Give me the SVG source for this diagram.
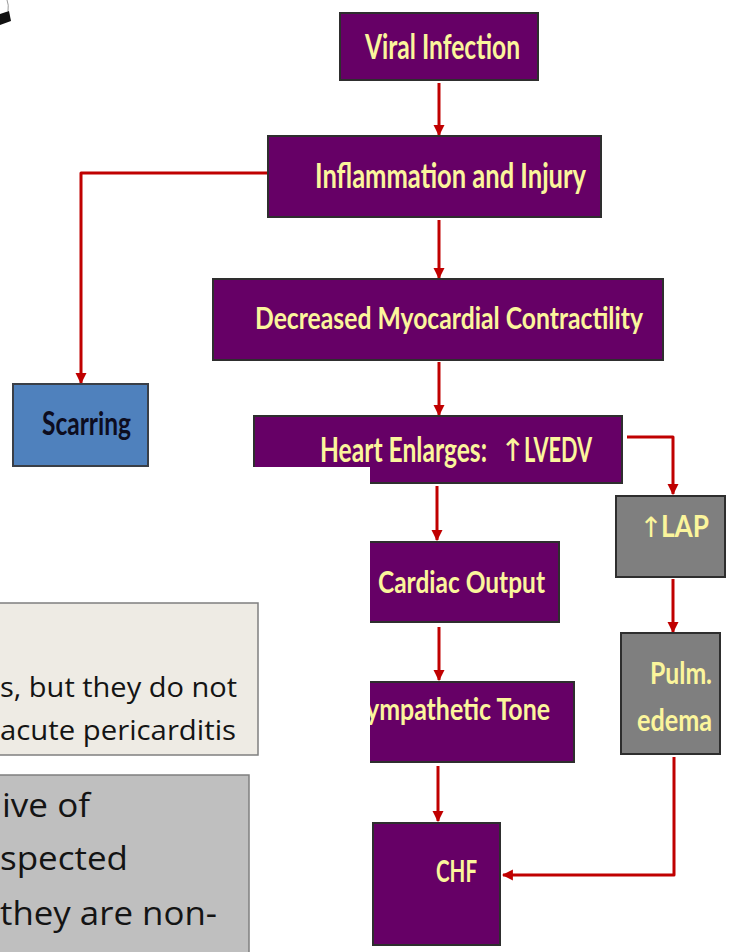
<svg xmlns="http://www.w3.org/2000/svg" width="730" height="952" viewBox="0 0 730 952">
  <defs>
    <marker id="arrow" viewBox="0 0 10 10" refX="9" refY="5" markerUnits="userSpaceOnUse" markerWidth="11" markerHeight="12" orient="auto">
      <path d="M0,0 L10,5 L0,10 z" fill="#c00000"/>
    </marker>
    <style>
      .box-purple { fill: #660066; stroke: #2e2e2e; stroke-width: 2; }
      .box-gray { fill: #7f7f7f; stroke: #2e2e2e; stroke-width: 2; }
      .box-blue { fill: #4f81bd; stroke: #3a3f47; stroke-width: 2; }
      .lbl { font-family: Lato, "Liberation Sans", Arial, sans-serif; font-weight: bold; fill: #fbf59c; }
      .lbl-dark { font-family: Lato, "Liberation Sans", Arial, sans-serif; font-weight: bold; fill: #0d0d1f; }
      .arr { font-family: "DejaVu Sans", sans-serif; font-weight: normal; fill: #fbf59c; }
      .link { fill: none; stroke: #c00000; stroke-width: 3; stroke-linecap: butt; stroke-linejoin: round; }
      .note { font-family: "Open Sans", "Noto Sans", sans-serif; fill: #141414; }
    </style>
  </defs>

  <rect x="0" y="0" width="730" height="952" fill="#ffffff"/>

  <!-- corner fragment -->
  <path d="M7,0 Q9,5 8,11" fill="none" stroke="#9a9a9a" stroke-width="1"/>
  <path d="M0,14 L9,11 L11,21 L0,25 z" fill="#111111"/>

  <!-- connectors -->
  <g id="connectors">
    <line class="link" x1="439" y1="83" x2="439" y2="135" marker-end="url(#arrow)"/>
    <polyline class="link" points="268,173 81,173 81,383" marker-end="url(#arrow)"/>
    <line class="link" x1="81" y1="466" x2="81" y2="490"/>
    <line class="link" x1="439" y1="220" x2="439" y2="278" marker-end="url(#arrow)"/>
    <line class="link" x1="439" y1="362" x2="439" y2="415" marker-end="url(#arrow)"/>
    <polyline class="link" points="627,437 673,437 673,494" marker-end="url(#arrow)"/>
    <line class="link" x1="673" y1="579" x2="673" y2="632" marker-end="url(#arrow)"/>
    <line class="link" x1="437" y1="486" x2="437" y2="540" marker-end="url(#arrow)"/>
    <line class="link" x1="439" y1="627" x2="439" y2="680" marker-end="url(#arrow)"/>
    <line class="link" x1="438" y1="766" x2="438" y2="821" marker-end="url(#arrow)"/>
    <polyline class="link" points="674,757 674,875 503,875" marker-end="url(#arrow)"/>
  </g>

  <!-- nodes -->
  <g id="viral-infection">
    <rect class="box-purple" x="340" y="13" width="198" height="67"/>
    <text class="lbl" x="365" y="59" font-size="34" textLength="155" lengthAdjust="spacingAndGlyphs">Viral Infection</text>
  </g>

  <g id="inflammation">
    <rect class="box-purple" x="268" y="136" width="333" height="81"/>
    <text class="lbl" x="315" y="188" font-size="34" textLength="271" lengthAdjust="spacingAndGlyphs">Inflammation and Injury</text>
  </g>

  <g id="contractility">
    <rect class="box-purple" x="213" y="279" width="450" height="81"/>
    <text class="lbl" x="255" y="329" font-size="31" textLength="388" lengthAdjust="spacingAndGlyphs">Decreased Myocardial Contractility</text>
  </g>

  <g id="scarring">
    <rect class="box-blue" x="13" y="384" width="135" height="82"/>
    <text class="lbl-dark" x="42" y="435" font-size="32" textLength="89" lengthAdjust="spacingAndGlyphs">Scarring</text>
  </g>

  <g id="heart-enlarges">
    <rect class="box-purple" x="254" y="416" width="368" height="67"/>
    <text class="lbl" x="320" y="462" font-size="34" textLength="167" lengthAdjust="spacingAndGlyphs">Heart Enlarges:</text>
    <text class="arr" x="513" y="461" font-size="31" text-anchor="middle">↑</text>
    <text class="lbl" x="524" y="462" font-size="34" textLength="68" lengthAdjust="spacingAndGlyphs">LVEDV</text>
  </g>

  <g id="lap">
    <rect class="box-gray" x="616" y="496" width="109" height="81"/>
    <text class="arr" x="651" y="537" font-size="28" text-anchor="middle">↑</text>
    <text class="lbl" x="661" y="537" font-size="31" textLength="48" lengthAdjust="spacingAndGlyphs">LAP</text>
  </g>

  <g id="pulm-edema">
    <rect class="box-gray" x="621" y="633" width="99" height="121"/>
    <text class="lbl" x="650" y="684" font-size="31" textLength="62" lengthAdjust="spacingAndGlyphs">Pulm.</text>
    <text class="lbl" x="637" y="731" font-size="31" textLength="75" lengthAdjust="spacingAndGlyphs">edema</text>
  </g>

  <g id="cardiac-output">
    <rect class="box-purple" x="300" y="542" width="259" height="80"/>
    <text class="lbl" x="378" y="593" font-size="31" textLength="167" lengthAdjust="spacingAndGlyphs">Cardiac Output</text>
  </g>

  <g id="sympathetic-tone">
    <rect class="box-purple" x="300" y="682" width="274" height="80"/>
    <text class="lbl" x="366" y="720" font-size="31" textLength="184" lengthAdjust="spacingAndGlyphs">ympathetic Tone</text>
  </g>

  <g id="chf">
    <rect class="box-purple" x="373" y="823" width="127" height="122"/>
    <text class="lbl" x="436" y="882" font-size="31" textLength="41" lengthAdjust="spacingAndGlyphs">CHF</text>
  </g>

  <!-- overlapping panel, lower left -->
  <rect x="0" y="467" width="370" height="485" fill="#ffffff"/>

  <g id="note-beige">
    <rect x="-10" y="603" width="268" height="152" fill="#eeebe4" stroke="#7f7f7f" stroke-width="1.5"/>
    <text class="note" x="0" y="697" font-size="27" textLength="237" lengthAdjust="spacingAndGlyphs">s, but they do not</text>
    <text class="note" x="0" y="740" font-size="27" textLength="236" lengthAdjust="spacingAndGlyphs">acute pericarditis</text>
  </g>

  <g id="note-gray">
    <rect x="-10" y="775" width="259" height="200" fill="#bfbfbf" stroke="#7f7f7f" stroke-width="1.5"/>
    <text class="note" x="2" y="817" font-size="33" textLength="88" lengthAdjust="spacingAndGlyphs">ive of</text>
    <text class="note" x="0" y="870" font-size="33" textLength="128" lengthAdjust="spacingAndGlyphs">spected</text>
    <text class="note" x="0" y="925" font-size="33" textLength="217" lengthAdjust="spacingAndGlyphs">they are non-</text>
  </g>
</svg>
